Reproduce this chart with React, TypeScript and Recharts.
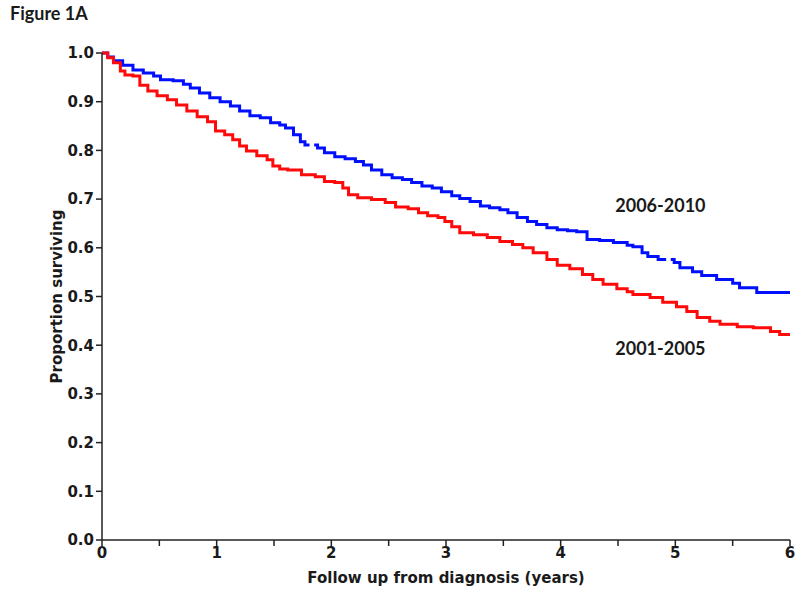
import React from "react";
import {
  LineChart,
  Line,
  XAxis,
  YAxis,
  ReferenceDot,
} from "recharts";

// follow-up time (years) and proportion surviving
const years0610 = [
  0, 0.05, 0.1, 0.18, 0.27, 0.36, 0.45, 0.51, 0.62, 0.71, 0.77, 0.85, 0.94,
  1.03, 1.12, 1.2, 1.29, 1.38, 1.47, 1.55, 1.6, 1.67, 1.73, 1.77, 1.81, 1.83,
  1.85, 1.88, 1.94, 2.03, 2.12, 2.21, 2.28, 2.35, 2.44, 2.53, 2.62, 2.7, 2.79,
  2.88, 2.96, 3.05, 3.12, 3.21, 3.3, 3.38, 3.47, 3.54, 3.62, 3.71, 3.79, 3.88,
  3.97, 4.06, 4.14, 4.23, 4.34, 4.46, 4.58, 4.63, 4.71, 4.76, 4.85, 4.92, 4.94,
  4.96, 4.99, 5.04, 5.15, 5.23, 5.36, 5.5, 5.56, 5.71, 6.0,
];
const surv0610: (number | null)[] = [
  1.0, 0.992, 0.984, 0.975, 0.965, 0.959, 0.953, 0.945, 0.943, 0.936, 0.928,
  0.918, 0.908, 0.9, 0.891, 0.881, 0.871, 0.867, 0.857, 0.852, 0.846, 0.832,
  0.818, 0.811, 0.811, null, 0.811, 0.805, 0.795, 0.787, 0.783, 0.777, 0.77,
  0.76, 0.75, 0.744, 0.74, 0.734, 0.727, 0.723, 0.715, 0.707, 0.701, 0.695,
  0.686, 0.682, 0.678, 0.672, 0.662, 0.654, 0.648, 0.641, 0.637, 0.635, 0.633,
  0.617, 0.615, 0.611, 0.605, 0.602, 0.59, 0.582, 0.576, 0.576, null, 0.576,
  0.57, 0.559, 0.551, 0.543, 0.535, 0.527, 0.518, 0.508, 0.508,
];

const years0105 = [
  0, 0.05, 0.1, 0.16, 0.2, 0.27, 0.33, 0.4, 0.48, 0.57, 0.65, 0.74, 0.83, 0.92,
  0.99, 1.07, 1.14, 1.2, 1.26, 1.35, 1.44, 1.49, 1.55, 1.62, 1.74, 1.86, 1.94,
  2.03, 2.1, 2.15, 2.23, 2.35, 2.47, 2.56, 2.67, 2.76, 2.84, 2.93, 2.99, 3.05,
  3.12, 3.24, 3.36, 3.47, 3.58, 3.67, 3.76, 3.88, 3.97, 4.08, 4.19, 4.28, 4.37,
  4.49, 4.58, 4.63, 4.78, 4.89, 5.01, 5.1, 5.19, 5.3, 5.39, 5.54, 5.68, 5.83,
  5.91, 6.0,
];
const surv0105 = [
  1.0, 0.99, 0.98, 0.963, 0.955, 0.953, 0.934, 0.922, 0.912, 0.904, 0.893,
  0.881, 0.869, 0.859, 0.84, 0.832, 0.822, 0.809, 0.799, 0.789, 0.781, 0.768,
  0.762, 0.76, 0.75, 0.746, 0.736, 0.734, 0.723, 0.709, 0.703, 0.699, 0.693,
  0.684, 0.68, 0.672, 0.666, 0.662, 0.654, 0.643, 0.631, 0.627, 0.621, 0.613,
  0.607, 0.6, 0.59, 0.576, 0.564, 0.557, 0.545, 0.535, 0.525, 0.516, 0.51,
  0.504, 0.498, 0.488, 0.479, 0.469, 0.457, 0.449, 0.443, 0.438, 0.436, 0.428,
  0.422, 0.422,
];

const xTicks = [0, 0.5, 1, 1.5, 2, 2.5, 3, 3.5, 4, 4.5, 5, 5.5, 6];
const yTicks = [0, 0.1, 0.2, 0.3, 0.4, 0.5, 0.6, 0.7, 0.8, 0.9, 1.0];

const groupLabels = ["2006-2010", "2001-2005"];

const axisFont = "'DejaVu Sans', sans-serif";
const axisColor = "#222";
const textColor = "#1a1a1a";

const late = years0610.map((t, i) => ({ t, s: surv0610[i] }));
const early = years0105.map((t, i) => ({ t, s: surv0105[i] }));

function GroupLabel(props: any) {
  const vb = props.viewBox || {};
  const cx = vb.x + (vb.width || 0) / 2;
  const cy = vb.y + (vb.height || 0) / 2;
  return (
    <text
      x={cx}
      y={cy}
      textAnchor="middle"
      dominantBaseline="central"
      fontFamily="Lato, sans-serif"
      fontWeight={700}
      fontSize={18}
      fill={textColor}
    >
      {props.value}
    </text>
  );
}

function YTitle(props: any) {
  const vb = props.viewBox || {};
  const x = vb.x + 57;
  const y = vb.y + vb.height / 2;
  return (
    <text
      x={x}
      y={y}
      transform={`rotate(-90, ${x}, ${y})`}
      textAnchor="middle"
      dominantBaseline="central"
      fontFamily={axisFont}
      fontWeight={700}
      fontSize={15}
      fill={textColor}
    >
      Proportion surviving
    </text>
  );
}

export default function App() {
  return (
    <div
      style={{
        position: "absolute",
        left: 0,
        top: 0,
        width: 800,
        height: 593,
        background: "#fff",
      }}
    >
      <div
        style={{
          position: "absolute",
          left: 10,
          top: 2,
          fontFamily: "Lato, sans-serif",
          fontWeight: 700,
          fontSize: 18,
          color: textColor,
        }}
      >
        Figure 1A
      </div>
      <LineChart
        width={800}
        height={593}
        margin={{ top: 53, right: 10, bottom: 3, left: 0 }}
      >
        <XAxis
          type="number"
          dataKey="t"
          domain={[0, 6]}
          ticks={xTicks}
          interval={0}
          allowDataOverflow
          height={50}
          tickSize={6}
          tickMargin={1}
          stroke={axisColor}
          strokeWidth={1.5}
          tick={{ fontSize: 15, fontWeight: 700, fontFamily: axisFont, fill: textColor }}
          tickFormatter={(v: number) => (Number.isInteger(v) ? String(v) : "")}
          label={{
            value: "Follow up from diagnosis (years)",
            position: "insideBottom",
            offset: 7,
            fontSize: 15,
            fontWeight: 700,
            fontFamily: axisFont,
            fill: textColor,
          }}
        />
        <YAxis
          type="number"
          domain={[0, 1]}
          ticks={yTicks}
          interval={0}
          width={102}
          tickSize={6}
          tickMargin={2}
          stroke={axisColor}
          strokeWidth={1.5}
          tick={{ fontSize: 15, fontWeight: 700, fontFamily: axisFont, fill: textColor }}
          tickFormatter={(v: number) => v.toFixed(1)}
          label={<YTitle />}
        />
        <Line
          data={late}
          dataKey="s"
          type="stepAfter"
          stroke="#0010ff"
          strokeWidth={3}
          dot={false}
          activeDot={false}
          isAnimationActive={false}
        />
        <Line
          data={early}
          dataKey="s"
          type="stepAfter"
          stroke="#ff0a0a"
          strokeWidth={3}
          dot={false}
          activeDot={false}
          isAnimationActive={false}
        />
        <ReferenceDot
          x={4.87}
          y={0.687}
          r={0}
          fill="none"
          stroke="none"
          label={<GroupLabel value={groupLabels[0]} />}
        />
        <ReferenceDot
          x={4.87}
          y={0.395}
          r={0}
          fill="none"
          stroke="none"
          label={<GroupLabel value={groupLabels[1]} />}
        />
      </LineChart>
    </div>
  );
}
